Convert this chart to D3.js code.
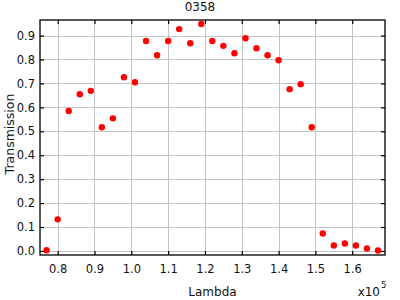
<!DOCTYPE html>
<html>
<head>
<meta charset="utf-8">
<script src="https://cdn.jsdelivr.net/npm/d3@7"></script>
<style>
html, body { margin: 0; padding: 0; background: #fff; }
svg { display: block; font-family: "DejaVu Sans", sans-serif; }
</style>
</head>
<body>
<svg id="chart" width="400" height="300"></svg>
<script>
// Data (lambda in units of 1e5)
const lambda = [0.77, 0.80, 0.83, 0.86, 0.89, 0.92, 0.95, 0.98, 1.01, 1.04, 1.07,
                1.10, 1.13, 1.16, 1.19, 1.22, 1.25, 1.28, 1.31, 1.34, 1.37, 1.40,
                1.43, 1.46, 1.49, 1.52, 1.55, 1.58, 1.61, 1.64, 1.67];
const transmission = [0.003, 0.132, 0.585, 0.655, 0.669, 0.517, 0.554, 0.726, 0.705, 0.877, 0.818,
                      0.877, 0.927, 0.868, 0.948, 0.877, 0.857, 0.826, 0.889, 0.847, 0.818, 0.797,
                      0.676, 0.697, 0.517, 0.073, 0.023, 0.031, 0.023, 0.010, 0.002];
const xTicks = [0.8, 0.9, 1.0, 1.1, 1.2, 1.3, 1.4, 1.5, 1.6];
const yTicks = [0.0, 0.1, 0.2, 0.3, 0.4, 0.5, 0.6, 0.7, 0.8, 0.9];
const title = "0358";
const xLabel = "Lambda";
const yLabel = "Transmission";

const svg = d3.select("#chart");
const L = 40, R = 385, T = 20, B = 255;

const x = d3.scaleLinear().domain([0.752, 1.689]).range([L, R]);
const y = d3.scaleLinear().domain([-0.017, 0.965]).range([B, T]);

// gridlines
const grid = svg.append("g");
grid.selectAll("line.gx").data(xTicks).enter().append("line")
  .attr("x1", d => Math.round(x(d)) + 0.5).attr("x2", d => Math.round(x(d)) + 0.5)
  .attr("y1", T).attr("y2", B)
  .attr("stroke", "#c4c4c4").attr("stroke-width", 1);
grid.selectAll("line.gy").data(yTicks).enter().append("line")
  .attr("y1", d => Math.round(y(d)) + 0.5).attr("y2", d => Math.round(y(d)) + 0.5)
  .attr("x1", L).attr("x2", R)
  .attr("stroke", "#c4c4c4").attr("stroke-width", 1);

// axes with inward ticks
const fmt = d3.format(".1f");
const axB = svg.append("g").attr("transform", `translate(0,${B})`)
  .call(d3.axisBottom(x).tickValues(xTicks).tickSize(-4).tickPadding(10).tickFormat(fmt));
const axT = svg.append("g").attr("transform", `translate(0,${T})`)
  .call(d3.axisTop(x).tickValues(xTicks).tickSize(-4).tickFormat(""));
const axL = svg.append("g").attr("transform", `translate(${L},0)`)
  .call(d3.axisLeft(y).tickValues(yTicks).tickSize(-4).tickPadding(5).tickFormat(fmt));
const axR = svg.append("g").attr("transform", `translate(${R},0)`)
  .call(d3.axisRight(y).tickValues(yTicks).tickSize(-4).tickFormat(""));
[axB, axT, axL, axR].forEach(a => {
  a.select(".domain").remove();
  a.selectAll(".tick line").attr("stroke", "#000").attr("stroke-width", 1.2);
  a.selectAll("text").attr("font-family", "DejaVu Sans, sans-serif")
    .attr("font-size", 11.5).attr("fill", "#111");
});

// frame
svg.append("rect").attr("x", L).attr("y", T).attr("width", R - L).attr("height", B - T)
  .attr("fill", "none").attr("stroke", "#000").attr("stroke-width", 1.3);

// points
svg.append("g").selectAll("circle").data(lambda).enter().append("circle")
  .attr("cx", (d, i) => x(d)).attr("cy", (d, i) => y(transmission[i]))
  .attr("r", 3.2).attr("fill", "#ff0000");

// title and labels
svg.append("text").attr("x", 200).attr("y", 11).attr("text-anchor", "middle")
  .attr("font-size", 12).attr("fill", "#111").text(title);
svg.append("text").attr("x", (L + R) / 2).attr("y", 296).attr("text-anchor", "middle")
  .attr("font-size", 12).attr("fill", "#111").text(xLabel);
svg.append("text").attr("transform", "translate(13.5,134) rotate(-90)").attr("text-anchor", "middle")
  .attr("font-size", 12.5).attr("fill", "#111").text(yLabel);
const ex = svg.append("text").attr("x", 380).attr("y", 296).attr("text-anchor", "end")
  .attr("font-size", 12).attr("fill", "#111");
ex.text("x10");
svg.append("text").attr("x", 381).attr("y", 288).attr("font-size", 8.5).attr("fill", "#111").text("5");
</script>
</body>
</html>
